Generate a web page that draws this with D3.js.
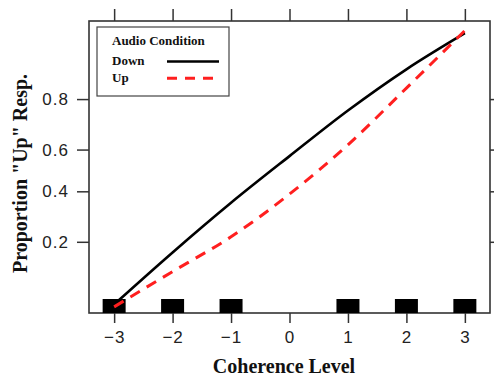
<!DOCTYPE html>
<html>
<head>
<meta charset="utf-8">
<script src="https://cdn.jsdelivr.net/npm/d3@7"></script>
<style>
  body { margin: 0; background: #fff; }
  svg { display: block; }
  .axis text { font-family: "Liberation Sans", Arial, sans-serif; font-size: 17px; fill: #222; letter-spacing: 1px; }
  .axis line { stroke: #333; stroke-width: 1.5; }
  .title { font-family: "Liberation Serif", "Times New Roman", serif; font-weight: bold; fill: #111; }
</style>
</head>
<body>
<svg id="chart" width="494" height="377"></svg>
<script>
// values
const coherence = [-3, -2, -1, 0, 1, 2, 3];
const downResp = [0.069, 0.169, 0.348, 0.569, 0.762, 0.877, 0.935];
const upResp = [0.066, 0.123, 0.216, 0.387, 0.622, 0.832, 0.938];
const xTicks = [-3, -2, -1, 0, 1, 2, 3];
const yTicks = [0.2, 0.4, 0.6, 0.8];
const rugLevels = [-3, -2, -1, 1, 2, 3];
const seriesNames = ['Down', 'Up'];
const seriesColors = ['#000000', '#ff1f1f'];

const series = [
  { name: seriesNames[0], values: downResp, color: seriesColors[0], dash: null, width: 2.6 },
  { name: seriesNames[1], values: upResp, color: seriesColors[1], dash: '11,8', width: 3 }
];

const margin = { top: 21, right: 4, bottom: 64, left: 89 };
const width = 494 - margin.left - margin.right;
const height = 377 - margin.top - margin.bottom;

// y axis is on a logit scale
const logit = p => Math.log(p / (1 - p));
const x = d3.scaleLinear().domain([-3.43, 3.43]).range([0, width]);
const yL = d3.scaleLinear().domain([logit(0.059), logit(0.948)]).range([height, 0]);
const y = p => yL(logit(p));

const svg = d3.select('#chart').append('g')
  .attr('transform', `translate(${margin.left},${margin.top})`);

const fmt = d3.format('.1f');

svg.append('g')
  .attr('class', 'axis')
  .attr('transform', `translate(0,${height})`)
  .call(d3.axisBottom(x).tickValues(xTicks).tickSize(10).tickPadding(8).tickFormat(d3.format('d')))
  .call(g => g.select('.domain').remove());

svg.append('g')
  .attr('class', 'axis')
  .call(d3.axisLeft(yL).tickValues(yTicks.map(logit)).tickSize(12).tickPadding(8)
    .tickFormat(v => fmt(1 / (1 + Math.exp(-v)))))
  .call(g => g.select('.domain').remove());

svg.append('g')
  .attr('class', 'axis')
  .call(d3.axisTop(x).tickValues(xTicks).tickSize(12).tickFormat(''))
  .call(g => g.select('.domain').remove());

svg.append('g')
  .attr('class', 'axis')
  .attr('transform', `translate(${width},0)`)
  .call(d3.axisRight(yL).tickValues(yTicks.map(logit)).tickSize(12).tickFormat(''))
  .call(g => g.select('.domain').remove());

svg.append('rect')
  .attr('width', width)
  .attr('height', height)
  .attr('fill', 'none')
  .attr('stroke', '#333')
  .attr('stroke-width', 1.6);

// black blocks along the bottom
svg.append('g')
  .selectAll('rect')
  .data(rugLevels)
  .enter().append('rect')
    .attr('x', d => x(d) - 11.5)
    .attr('y', height - 14)
    .attr('width', 23)
    .attr('height', 14)
    .attr('fill', '#000');

const line = d3.line()
  .x((d, i) => x(coherence[i]))
  .y(d => y(d))
  .curve(d3.curveMonotoneX);

svg.append('g')
  .selectAll('path')
  .data(series)
  .enter().append('path')
    .attr('d', d => line(d.values))
    .attr('fill', 'none')
    .attr('stroke', d => d.color)
    .attr('stroke-width', d => d.width)
    .attr('stroke-dasharray', d => d.dash);

// legend
const legend = svg.append('g')
  .attr('transform', 'translate(8,6)');

legend.append('rect')
  .attr('width', 132)
  .attr('height', 69)
  .attr('fill', '#fff')
  .attr('stroke', '#444')
  .attr('stroke-width', 1.2);

legend.append('text')
  .attr('class', 'title')
  .attr('x', 15)
  .attr('y', 18)
  .style('font-size', '13px')
  .text('Audio Condition');

const items = legend.selectAll('g.item')
  .data(series)
  .enter().append('g')
    .attr('class', 'item')
    .attr('transform', (d, i) => `translate(0,${38 + i * 16.7})`);

items.append('text')
  .attr('class', 'title')
  .attr('x', 15)
  .attr('y', 0)
  .style('font-size', '13px')
  .text(d => d.name);

items.append('line')
  .attr('x1', 70)
  .attr('x2', d => d.dash ? 124 : 122)
  .attr('y1', -3.5)
  .attr('y2', -3.5)
  .attr('stroke', d => d.color)
  .attr('stroke-width', d => d.width)
  .attr('stroke-dasharray', d => d.dash ? '10,8' : null);

// axis titles
svg.append('text')
  .attr('class', 'title')
  .attr('x', 195)
  .attr('y', height + 60)
  .attr('text-anchor', 'middle')
  .style('font-size', '20px')
  .text('Coherence Level');

svg.append('text')
  .attr('class', 'title')
  .attr('transform', `translate(${26.5 - margin.left},${173.5 - margin.top}) rotate(-90)`)
  .attr('text-anchor', 'middle')
  .style('font-size', '20px')
  .text('Proportion "Up" Resp.');
</script>
</body>
</html>
